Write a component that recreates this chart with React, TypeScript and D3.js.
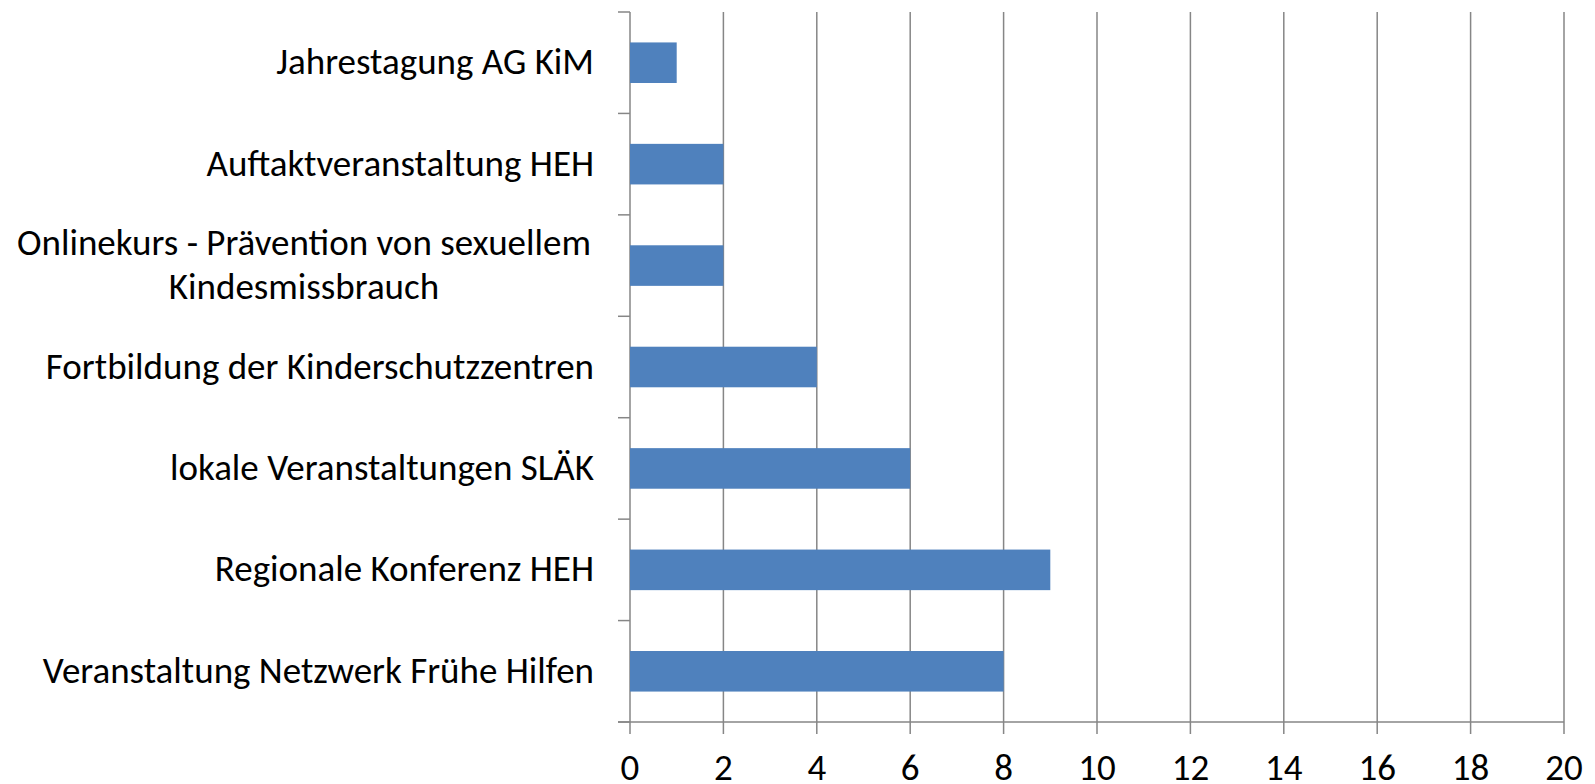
import React from "react";
import * as d3 from "d3";

const categories = [
  "Jahrestagung AG KiM",
  "Auftaktveranstaltung HEH",
  "Onlinekurs - Prävention von sexuellem|Kindesmissbrauch",
  "Fortbildung der Kinderschutzzentren",
  "lokale Veranstaltungen SLÄK",
  "Regionale Konferenz HEH",
  "Veranstaltung Netzwerk Frühe Hilfen",
];
const values = [1, 2, 2, 4, 6, 9, 8];
const xTicks = [0, 2, 4, 6, 8, 10, 12, 14, 16, 18, 20];

const W = 1595;
const H = 784;
const left = 630;
const right = 1564;
const top = 12;
const bottom = 722;
const FONT = "Carlito, Calibri, 'Open Sans', sans-serif";
const FS = 37;

export default function App() {
  const x = d3.scaleLinear().domain([0, 20]).range([left, right]);
  const y = d3.scaleBand().domain(categories).range([top, bottom]);
  const bw = y.bandwidth();
  const barH = bw * 0.4;
  const grid = "#868686";
  const boundaries = d3.range(categories.length + 1).map((i) => top + i * bw);
  return (
    <svg width={W} height={H} style={{ position: "absolute", left: 0, top: 0 }}>
      <rect width={W} height={H} fill="#fff" />
      {xTicks.map((t) => (
        <line key={"g" + t} x1={x(t)} x2={x(t)} y1={top} y2={bottom + 12} stroke={grid} strokeWidth={1.5} />
      ))}
      {boundaries.map((b, i) => (
        <line key={"yt" + i} x1={left - 12} x2={left} y1={b} y2={b} stroke={grid} strokeWidth={1.5} />
      ))}
      <line x1={left - 12} x2={right} y1={bottom} y2={bottom} stroke={grid} strokeWidth={1.5} />
      {categories.map((c, i) => (
        <rect
          key={c}
          x={x(0)}
          y={(y(c) as number) + bw / 2 - barH / 2}
          width={x(values[i]) - x(0)}
          height={barH}
          fill="#4F81BD"
        />
      ))}
      {categories.map((c) => {
        const lines = c.split("|");
        const cy = (y(c) as number) + bw / 2;
        const lh = 44;
        const multi = lines.length > 1;
        return (
          <text
            key={"l" + c}
            textAnchor={multi ? "middle" : "end"}
            fontFamily={FONT}
            fontSize={FS}
            fill="#000"
          >
            {lines.map((ln, j) => (
              <tspan
                key={j}
                x={multi ? 304 : 594}
                y={cy + (j - (lines.length - 1) / 2) * lh + 11.5}
              >
                {ln}
              </tspan>
            ))}
          </text>
        );
      })}
      {xTicks.map((t) => (
        <text key={"xt" + t} x={x(t)} y={780} textAnchor="middle" fontFamily={FONT} fontSize={FS} fill="#000">
          {t}
        </text>
      ))}
    </svg>
  );
}
